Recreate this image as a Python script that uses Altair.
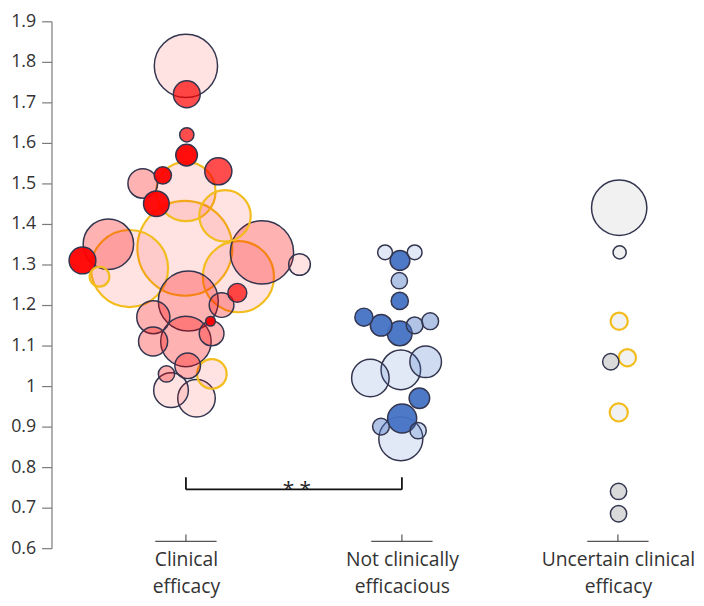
import json
import altair as alt
import pandas as pd

# ---------------- data ----------------
groups = ["Clinical efficacy", "Not clinically efficacious", "Uncertain clinical efficacy"]
label_lines = [["Clinical", "efficacy"], ["Not clinically", "efficacious"], ["Uncertain clinical", "efficacy"]]
y_ticks = [0.6, 0.7, 0.8, 0.9, 1.0, 1.1, 1.2, 1.3, 1.4, 1.5, 1.6, 1.7, 1.8, 1.9]

# Clinical efficacy
ce_value = [1.79, 1.72, 1.62, 1.57, 1.53, 1.52, 1.50, 1.48, 1.45, 1.42, 1.34, 1.33, 1.30, 1.35, 1.31, 1.27,
            1.29, 1.27, 1.21, 1.23, 1.20, 1.17, 1.16, 1.11, 1.13, 1.11, 1.05, 1.03, 1.03, 0.99, 0.97]
ce_jitter = [0.0, 0.004, 0.004, 0.003, 0.150, -0.107, -0.200, 0.0, -0.137, 0.181, -0.005, 0.352, 0.526, -0.359,
             -0.479, -0.400, -0.261, 0.243, 0.011, 0.238, 0.165, -0.151, 0.114, 0.0, 0.119, -0.152, 0.008,
             0.120, -0.090, -0.069, 0.049]
ce_n = [256, 46, 13, 30, 47, 19, 56, 225, 42, 169, 576, 256, 30, 163, 46, 25,
        380, 324, 230, 23, 39, 70, 6, 163, 39, 54, 42, 56, 17, 77, 90]
ce_shade = ["faint", "strong", "strong", "solid", "strong", "solid", "soft", "faint", "solid", "faint", "faint",
            "soft", "faint", "soft", "solid", "faint", "faint", "faint", "soft", "strong", "soft", "soft", "solid",
            "soft", "soft", "soft", "soft", "faint", "soft", "faint", "faint"]
ce_ring = ["navy", "navy", "navy", "navy", "navy", "navy", "navy", "gold", "navy", "gold", "gold",
           "navy", "navy", "navy", "navy", "gold", "gold", "gold", "navy", "navy", "navy", "navy", "navy",
           "navy", "navy", "navy", "navy", "gold", "navy", "navy", "navy"]

# Not clinically efficacious
nc_value = [1.33, 1.33, 1.31, 1.26, 1.21, 1.17, 1.15, 1.13, 1.15, 1.16, 1.02, 1.04, 1.06, 0.97, 0.92, 0.90, 0.89, 0.87]
nc_jitter = [-0.078, 0.059, -0.009, -0.012, -0.010, -0.176, -0.096, -0.010, 0.059, 0.131, -0.146, -0.005,
             0.110, 0.081, 0.001, -0.097, 0.075, -0.005]
nc_n = [14, 14, 25, 17, 19, 21, 30, 39, 18, 18, 90, 100, 64, 27, 54, 18, 17, 124]
nc_shade = ["faint", "faint", "solid", "medium", "solid", "solid", "solid", "solid", "medium", "medium",
            "faint", "faint", "soft", "solid", "solid", "medium", "soft", "faint"]
nc_ring = ["navy"] * 18

# Uncertain clinical efficacy
uc_value = [1.44, 1.33, 1.16, 1.06, 1.07, 0.935, 0.74, 0.685]
uc_jitter = [0.006, 0.008, 0.006, -0.033, 0.044, 0.004, 0.003, 0.003]
uc_n = [196, 11, 19, 17, 19, 21, 17, 17]
uc_shade = ["faint", "faint", "faint", "medium", "faint", "faint", "medium", "medium"]
uc_ring = ["navy", "navy", "gold", "navy", "gold", "gold", "navy", "navy"]

# significance bracket between groups 1 and 2
sig_from, sig_to = 1, 2
sig_level, sig_top = 0.745, 0.775
sig_text = "* *"

# ---------------- styling tables ----------------
base_colors = ["#ff0000", "#4472c4", "#a6a6a6"]
level_opacity = [
    {"solid": 0.95, "strong": 0.7, "medium": 0.45, "soft": 0.3, "faint": 0.11},
    {"solid": 0.95, "strong": 0.7, "medium": 0.42, "soft": 0.26, "faint": 0.16},
    {"solid": 0.95, "strong": 0.7, "medium": 0.42, "soft": 0.26, "faint": 0.16},
]
ring_color = {"navy": "#33354f", "gold": "#f2bd1d"}
ring_width = {"navy": 1.5, "gold": 2.2}

# ---------------- build table ----------------
rows = []
for gi, (vals, jit, ns, shades, rings) in enumerate([
        (ce_value, ce_jitter, ce_n, ce_shade, ce_ring),
        (nc_value, nc_jitter, nc_n, nc_shade, nc_ring),
        (uc_value, uc_jitter, uc_n, uc_shade, uc_ring)]):
    for v, j, n, s, r in zip(vals, jit, ns, shades, rings):
        rows.append({"group": groups[gi], "xpos": gi + 1 + j, "value": v, "n": n,
                     "fillc": base_colors[gi], "op": level_opacity[gi][s],
                     "strokec": ring_color[r], "sw": ring_width[r]})
df = pd.DataFrame(rows).sort_values("n", ascending=False)

FONT = "Open Sans"
TEXTC = "#333333"
xscale = alt.Scale(domain=[0.3776, 3.325], nice=False, zero=False)
yscale = alt.Scale(domain=[0.6, 1.9], nice=False, zero=False)

label_expr = " : ".join(
    f"datum.value == {i + 1} ? {json.dumps(lines)}" for i, lines in enumerate(label_lines[:-1])
) + f" : {json.dumps(label_lines[-1])}"

maxn = max(ce_n + nc_n + uc_n)
# Vega circle symbol: radius = sqrt(size) / 2, so size = 4 r^2 with r^2 = 4 n
points = alt.Chart(df).mark_point(filled=True, shape="circle", opacity=1).encode(
    x=alt.X("xpos:Q", scale=xscale, axis=alt.Axis(
        values=[1, 2, 3], labelExpr=label_expr, domain=False, ticks=False, grid=False,
        labelFontSize=19.5, labelFont=FONT, labelLineHeight=27, labelPadding=3,
        labelColor=TEXTC, labelFlush=False, labelOverlap=False, title=None)),
    y=alt.Y("value:Q", scale=yscale, axis=alt.Axis(
        values=y_ticks, format=".1~f", grid=False, tickSize=10, labelPadding=6,
        labelFontSize=18, labelFont=FONT, labelColor=TEXTC, tickColor="#7a7a7a",
        domainColor="#7a7a7a", tickWidth=1.2, domainWidth=1.2, title=None)),
    size=alt.Size("n:Q", scale=alt.Scale(domain=[0, maxn], range=[0, 16 * maxn]), legend=None),
    fill=alt.Fill("fillc:N", scale=None),
    fillOpacity=alt.FillOpacity("op:Q", scale=None),
    stroke=alt.Stroke("strokec:N", scale=None),
    strokeWidth=alt.StrokeWidth("sw:Q", scale=None),
    order=alt.Order("n:Q", sort="descending"),
)

# category base segments under each group
seg_half = 0.142
seg_base, seg_tick = 0.617, 0.634
seg_df = pd.DataFrame({"c": [1, 2, 3]})
seg_df["a"] = seg_df["c"] - seg_half
seg_df["b"] = seg_df["c"] + seg_half
seg_df["y0"] = seg_base
seg_df["y1"] = seg_tick
seg_h = alt.Chart(seg_df).mark_rule(color="#555555", strokeWidth=1.2).encode(
    x=alt.X("a:Q", scale=xscale), x2="b:Q", y=alt.Y("y0:Q", scale=yscale))
seg_v = alt.Chart(seg_df).mark_rule(color="#555555", strokeWidth=1.2).encode(
    x=alt.X("c:Q", scale=xscale), y=alt.Y("y0:Q", scale=yscale), y2="y1:Q")

# significance bracket
br_df = pd.DataFrame({"a": [sig_from], "b": [sig_to], "lo": [sig_level], "hi": [sig_top]})
br_h = alt.Chart(br_df).mark_rule(color="#111111", strokeWidth=1.8).encode(
    x=alt.X("a:Q", scale=xscale), x2="b:Q", y=alt.Y("lo:Q", scale=yscale))
br_ends = pd.DataFrame({"x": [sig_from, sig_to], "lo": [sig_level] * 2, "hi": [sig_top] * 2})
br_v = alt.Chart(br_ends).mark_rule(color="#111111", strokeWidth=1.8).encode(
    x=alt.X("x:Q", scale=xscale), y=alt.Y("lo:Q", scale=yscale), y2="hi:Q")
txt_df = pd.DataFrame({"x": [(sig_from + sig_to) / 2], "y": [sig_level], "t": [sig_text]})
br_t = alt.Chart(txt_df).mark_text(font=FONT, fontSize=21, color="#222222",
                                   baseline="alphabetic", dy=7, dx=3).encode(
    x=alt.X("x:Q", scale=xscale), y=alt.Y("y:Q", scale=yscale), text="t:N")

chart = alt.layer(points, seg_h, seg_v, br_h, br_v, br_t).properties(
    width=644, height=533,
    autosize=alt.AutoSizeParams(type="none"),
    padding={"left": 44, "top": 10, "right": 8, "bottom": 55},
).configure_view(stroke=None)

chart.save("out.html", embed_options={"renderer": "svg", "actions": False})
